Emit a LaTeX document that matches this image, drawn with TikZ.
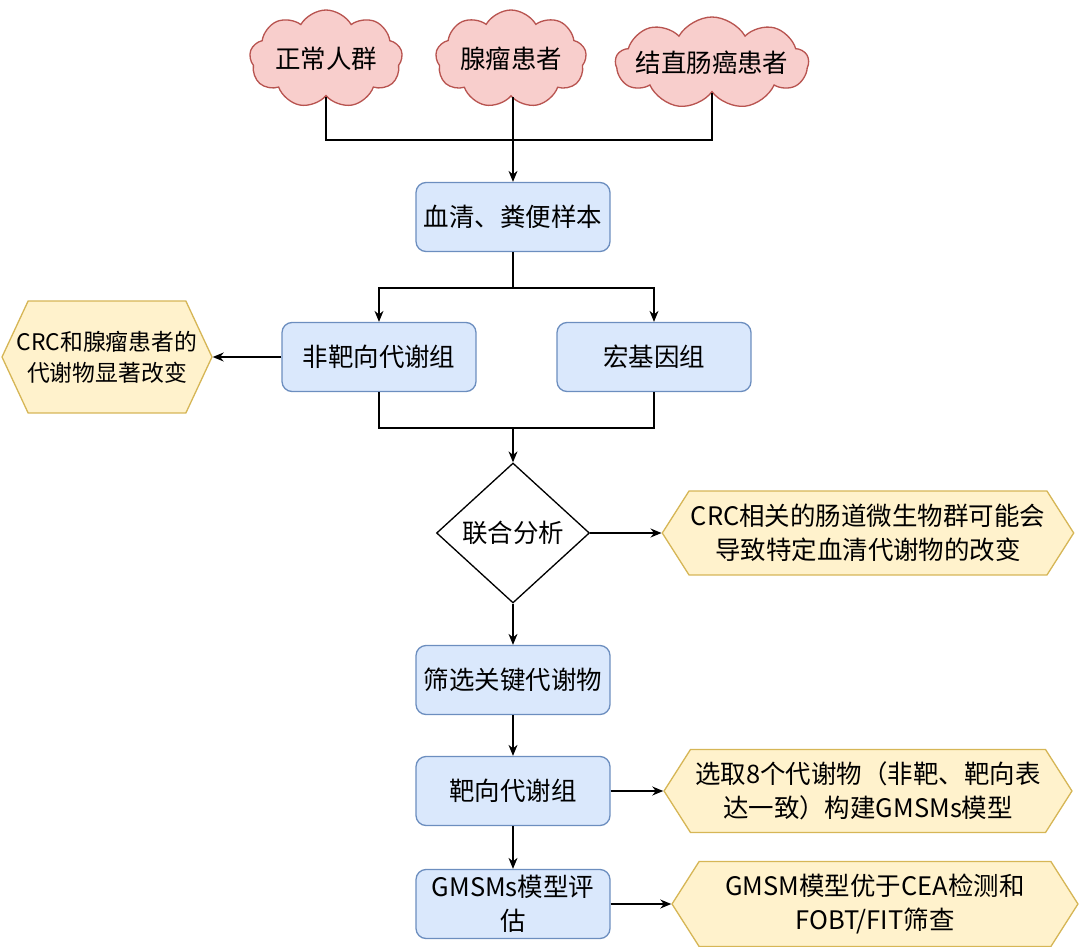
\documentclass[tikz,border=0pt]{standalone}
\usepackage{fontspec}
\setmainfont{Noto Sans CJK SC}
\usepackage{tikz}
\usetikzlibrary{arrows.meta,shapes.geometric,shapes.symbols,positioning,calc}

\definecolor{boxfill}{HTML}{DAE8FC}
\definecolor{boxline}{HTML}{6C8EBF}
\definecolor{hexfill}{HTML}{FFF2CC}
\definecolor{hexline}{HTML}{D6B656}
\definecolor{cloudfill}{HTML}{F8CECC}
\definecolor{cloudline}{HTML}{B85450}

\tikzset{
  every node/.style={font=\fontsize{14.5}{19}\selectfont, align=center},
  stepbox/.style={draw=boxline, fill=boxfill, rounded corners=0.2cm, line width=0.75pt,
                  minimum width=3.88cm, minimum height=1.38cm, inner sep=2pt},
  result/.style={signal, signal to=west and east, draw=hexline, fill=hexfill,
                 line width=0.75pt, inner sep=1pt},
  group/.style={cloud, cloud puffs=9, cloud puff arc=120, cloud ignores aspect,
                draw=cloudline, fill=cloudfill, line width=0.75pt, inner sep=0pt},
  choice/.style={diamond, draw, line width=0.75pt, inner sep=0pt,
                 minimum width=3.06cm, minimum height=2.8cm},
  arr/.style={-{Stealth[length=0.22cm,width=0.18cm]}, line width=0.75pt},
  link/.style={line width=0.75pt}
}

\begin{document}
\begin{tikzpicture}[x=0.02cm, y=-0.02cm]
  \useasboundingbox (0,0) rectangle (1080,947);

  % Groups
  \node[group, minimum width=3.06cm, minimum height=1.96cm] (normal) at (326,59) {正常人群};
  \node[group, minimum width=3.02cm, minimum height=1.96cm] (adenoma) at (511,59) {腺瘤患者};
  \node[group, minimum width=3.86cm, minimum height=1.84cm, inner xsep=-0.5cm]
    (crc) at (712,63) {结直肠癌患者};

  % Main steps
  \node[stepbox] (sample) at (513,217) {血清、粪便样本};
  \node[stepbox] (untarget) at (379,357) {非靶向代谢组};
  \node[stepbox] (metagen) at (654,357) {宏基因组};
  \node[choice] (joint) at (513,533) {联合分析};
  \node[stepbox] (screen) at (513,680) {筛选关键代谢物};
  \node[stepbox] (target) at (513,791) {靶向代谢组};
  \node[stepbox] (eval) at (513,904) {GMSMs模型评\\估};

  % Results
  \node[result, signal pointer angle=130, minimum width=4.2cm, minimum height=2.24cm,
        inner xsep=-0.27cm, font=\fontsize{13}{17.5}\selectfont]
    (res1) at (107,357) {CRC和腺瘤患者的\\代谢物显著改变};
  \node[result, signal pointer angle=115, minimum width=8.16cm, minimum height=1.68cm]
    (res2) at (868,533) {CRC相关的肠道微生物群可能会\\导致特定血清代谢物的改变};
  \node[result, signal pointer angle=115, minimum width=8.16cm, minimum height=1.66cm]
    (res3) at (868,791) {选取8个代谢物（非靶、靶向表\\达一致）构建GMSMs模型};
  \node[result, signal pointer angle=115, minimum width=8.12cm, minimum height=1.7cm]
    (res4) at (875,904) {GMSM模型优于CEA检测和\\FOBT/FIT筛查};

  % Junctions
  \coordinate (m1) at (513,140);
  \coordinate (m2) at (513,288);
  \coordinate (m3) at (513,428);

  % Connections
  \draw[link] (normal.south) |- (m1);
  \draw[link] (crc.south) |- (m1);
  \draw[arr] (adenoma.south -| m1) -- (sample.north);
  \draw[link] (sample.south) -- (m2);
  \draw[arr] (m2) -| (untarget.north);
  \draw[arr] (m2) -| (metagen.north);
  \draw[arr] (untarget.west) -- (res1.east);
  \draw[link] (untarget.south) |- (m3);
  \draw[link] (metagen.south) |- (m3);
  \draw[arr] (m3) -- (joint.north);
  \draw[arr] (joint.east) -- (res2.west);
  \draw[arr] (joint.south) -- (screen.north);
  \draw[arr] (screen.south) -- (target.north);
  \draw[arr] (target.east) -- (res3.west);
  \draw[arr] (target.south) -- (eval.north);
  \draw[arr] (eval.east) -- (res4.west);
\end{tikzpicture}
\end{document}
